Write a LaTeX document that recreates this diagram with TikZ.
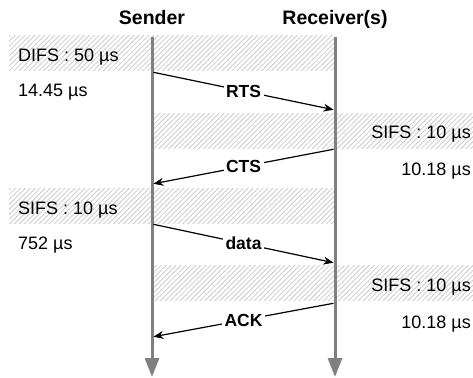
\documentclass[tikz,border=0pt]{standalone}
\usepackage{fontspec}
\setmainfont{Liberation Sans}
\usetikzlibrary{arrows.meta,patterns.meta}
\begin{document}
\begin{tikzpicture}[x=1pt,y=-1pt,line join=round,>={Stealth[length=10pt,width=8pt]},
  band/.style={pattern={Lines[angle=45,distance=3.5pt,line width=1pt]},pattern color=gray!35},
  life/.style={draw=gray,line width=3pt,-{Triangle[length=19pt,width=14pt]}},
  msg/.style={->,line width=1.2pt,shorten >=1.5pt,shorten <=1.5pt},
  lbl/.style={fill=white,inner sep=2.5pt,font=\fontsize{17.5}{19}\selectfont\bfseries},
  head/.style={anchor=base,inner sep=0pt,font=\fontsize{19.5}{22}\selectfont\bfseries},
  txt/.style={inner sep=0pt,font=\fontsize{18}{20}\selectfont}]
\def \xs{152};
\def \xr{335};
\useasboundingbox (0,0) rectangle (473,377);
% waiting intervals
\foreach \a/\b/\y in {9/\xr/36,\xs/473/113,9/\xr/188,\xs/473/265}{\fill[band] (\a,\y) rectangle (\b,\y+35);}
\node[head] (sender) at (\xs,25) {Sender};
\node[head] (receiver) at (\xr,25) {Receiver(s)};
\coordinate (stop) at (\xs,37);
\coordinate (sbot) at (\xs,377);
\coordinate (rtop) at (\xr,37);
\coordinate (rbot) at (\xr,377);
\draw[life] (stop) -- (sbot);
\draw[life] (rtop) -- (rbot);
% frames
\foreach \n/\y in {s1/72,s2/184,s3/224,s4/337}{\coordinate (\n) at (\xs,\y);}
\foreach \n/\y in {r1/110,r2/149,r3/263,r4/303}{\coordinate (\n) at (\xr,\y);}
\draw[msg] (s1) -- node[lbl] (rts) {RTS} (r1);
\draw[msg] (r2) -- node[lbl] (cts) {CTS} (s2);
\draw[msg] (s3) -- node[lbl] (data) {data} (r3);
\draw[msg] (r4) -- node[lbl] (ack) {ACK} (s4);
% durations
\foreach \n/\y/\t in {difs/62/{DIFS : 50 µs},trts/97/{14.45 µs},sifsb/214/{SIFS : 10 µs},tdata/249/{752 µs}}
  {\node[txt,anchor=base west] (\n) at (18,\y) {\t};}
\foreach \n/\y/\t in {sifsa/138/{SIFS : 10 µs},tcts/175/{10.18 µs},sifsc/291/{SIFS : 10 µs},tack/328/{10.18 µs}}
  {\node[txt,anchor=base east] (\n) at (471,\y) {\t};}
\end{tikzpicture}
\end{document}
